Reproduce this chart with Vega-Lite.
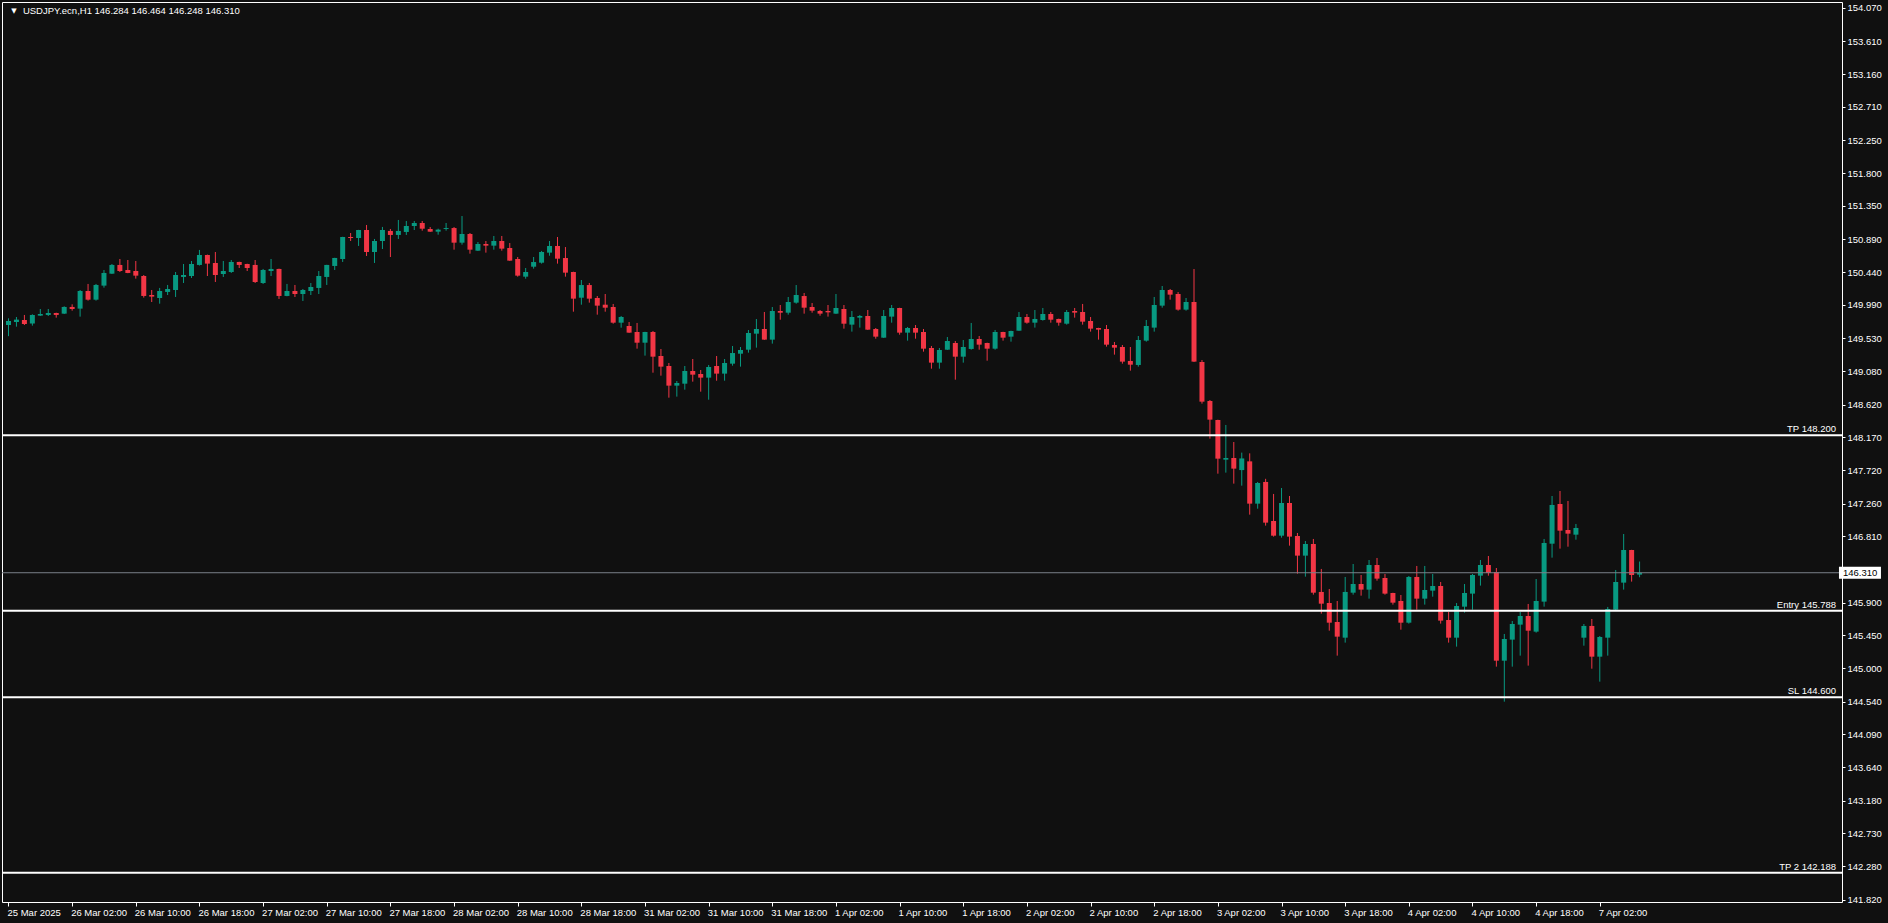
{
"$schema": "https://vega.github.io/schema/vega-lite/v6.json",
"width": 1840,
"height": 900,
"autosize": {"type": "none"},
"padding": {"left": 2, "top": 2, "right": 46, "bottom": 21},
"background": "#101010",
"config": {
"view": {"stroke": "#ffffff", "strokeWidth": 1, "fill": "#101010"},
"font": "Liberation Sans",
"axis": {"domain": false, "grid": false, "ticks": true, "tickColor": "#ffffff", "tickWidth": 1, "labelColor": "#ffffff", "labelFont": "Liberation Sans", "labelFontSize": 9.5, "labelOverlap": false, "titleColor": "#ffffff"}
},
"datasets": {
"bars": [
{"i":0,"o":149.713,"h":149.805,"l":149.56,"c":149.768},
{"i":1,"o":149.754,"h":149.823,"l":149.690,"c":149.787},
{"i":2,"o":149.782,"h":149.851,"l":149.713,"c":149.727},
{"i":3,"o":149.732,"h":149.860,"l":149.704,"c":149.851},
{"i":4,"o":149.842,"h":149.933,"l":149.837,"c":149.864},
{"i":5,"o":149.851,"h":149.933,"l":149.837,"c":149.878},
{"i":6,"o":149.878,"h":149.882,"l":149.814,"c":149.851},
{"i":7,"o":149.869,"h":149.970,"l":149.864,"c":149.961},
{"i":8,"o":149.961,"h":149.997,"l":149.910,"c":149.933},
{"i":9,"o":149.938,"h":150.194,"l":149.828,"c":150.180},
{"i":10,"o":150.180,"h":150.277,"l":150.048,"c":150.061},
{"i":11,"o":150.061,"h":150.277,"l":150.048,"c":150.263},
{"i":12,"o":150.254,"h":150.469,"l":150.226,"c":150.428},
{"i":13,"o":150.418,"h":150.551,"l":150.414,"c":150.538},
{"i":14,"o":150.538,"h":150.620,"l":150.441,"c":150.455},
{"i":15,"o":150.469,"h":150.606,"l":150.425,"c":150.428},
{"i":16,"o":150.455,"h":150.592,"l":150.350,"c":150.391},
{"i":17,"o":150.386,"h":150.400,"l":150.089,"c":150.112},
{"i":18,"o":150.125,"h":150.194,"l":150.029,"c":150.103},
{"i":19,"o":150.084,"h":150.222,"l":150.006,"c":150.180},
{"i":20,"o":150.167,"h":150.263,"l":150.125,"c":150.208},
{"i":21,"o":150.194,"h":150.441,"l":150.098,"c":150.400},
{"i":22,"o":150.373,"h":150.551,"l":150.290,"c":150.400},
{"i":23,"o":150.386,"h":150.592,"l":150.359,"c":150.551},
{"i":24,"o":150.538,"h":150.744,"l":150.530,"c":150.675},
{"i":25,"o":150.675,"h":150.680,"l":150.386,"c":150.556},
{"i":26,"o":150.565,"h":150.716,"l":150.304,"c":150.400},
{"i":27,"o":150.414,"h":150.592,"l":150.373,"c":150.455},
{"i":28,"o":150.441,"h":150.606,"l":150.428,"c":150.579},
{"i":29,"o":150.579,"h":150.582,"l":150.496,"c":150.538},
{"i":30,"o":150.551,"h":150.555,"l":150.455,"c":150.496},
{"i":31,"o":150.538,"h":150.606,"l":150.290,"c":150.304},
{"i":32,"o":150.290,"h":150.483,"l":150.277,"c":150.469},
{"i":33,"o":150.455,"h":150.620,"l":150.386,"c":150.483},
{"i":34,"o":150.483,"h":150.487,"l":150.071,"c":150.112},
{"i":35,"o":150.112,"h":150.277,"l":150.108,"c":150.180},
{"i":36,"o":150.180,"h":150.263,"l":150.098,"c":150.139},
{"i":37,"o":150.139,"h":150.208,"l":150.043,"c":150.194},
{"i":38,"o":150.180,"h":150.290,"l":150.125,"c":150.235},
{"i":39,"o":150.222,"h":150.455,"l":150.139,"c":150.386},
{"i":40,"o":150.373,"h":150.540,"l":150.263,"c":150.538},
{"i":41,"o":150.524,"h":150.636,"l":150.469,"c":150.634},
{"i":42,"o":150.620,"h":150.925,"l":150.579,"c":150.922},
{"i":43,"o":150.922,"h":150.977,"l":150.867,"c":150.908},
{"i":44,"o":150.908,"h":151.020,"l":150.799,"c":151.018},
{"i":45,"o":151.018,"h":151.087,"l":150.661,"c":150.716},
{"i":46,"o":150.716,"h":150.895,"l":150.565,"c":150.867},
{"i":47,"o":150.867,"h":151.060,"l":150.757,"c":151.018},
{"i":48,"o":151.005,"h":151.032,"l":150.647,"c":150.950},
{"i":49,"o":150.950,"h":151.156,"l":150.895,"c":151.005},
{"i":50,"o":150.991,"h":151.142,"l":150.950,"c":151.073},
{"i":51,"o":151.073,"h":151.142,"l":151.018,"c":151.114},
{"i":52,"o":151.114,"h":151.142,"l":151.009,"c":151.036},
{"i":53,"o":151.032,"h":151.059,"l":150.992,"c":150.995},
{"i":54,"o":150.995,"h":151.036,"l":150.954,"c":151.023},
{"i":55,"o":151.032,"h":151.114,"l":151.009,"c":151.045},
{"i":56,"o":151.045,"h":151.059,"l":150.748,"c":150.844},
{"i":57,"o":150.844,"h":151.210,"l":150.817,"c":150.963},
{"i":58,"o":150.963,"h":150.977,"l":150.693,"c":150.748},
{"i":59,"o":150.734,"h":150.853,"l":150.730,"c":150.826},
{"i":60,"o":150.826,"h":150.867,"l":150.707,"c":150.803},
{"i":61,"o":150.803,"h":150.936,"l":150.748,"c":150.867},
{"i":62,"o":150.867,"h":150.936,"l":150.734,"c":150.762},
{"i":63,"o":150.771,"h":150.839,"l":150.594,"c":150.597},
{"i":64,"o":150.620,"h":150.647,"l":150.377,"c":150.391},
{"i":65,"o":150.377,"h":150.496,"l":150.349,"c":150.441},
{"i":66,"o":150.514,"h":150.647,"l":150.487,"c":150.578},
{"i":67,"o":150.569,"h":150.730,"l":150.556,"c":150.716},
{"i":68,"o":150.707,"h":150.867,"l":150.665,"c":150.798},
{"i":69,"o":150.798,"h":150.922,"l":150.556,"c":150.624},
{"i":70,"o":150.633,"h":150.784,"l":150.377,"c":150.432},
{"i":71,"o":150.441,"h":150.445,"l":149.896,"c":150.075},
{"i":72,"o":150.088,"h":150.331,"l":149.992,"c":150.262},
{"i":73,"o":150.262,"h":150.290,"l":150.020,"c":150.075},
{"i":74,"o":150.084,"h":150.111,"l":149.855,"c":149.979},
{"i":75,"o":149.992,"h":150.139,"l":149.896,"c":149.951},
{"i":76,"o":149.960,"h":150.002,"l":149.731,"c":149.745},
{"i":77,"o":149.745,"h":149.837,"l":149.676,"c":149.823},
{"i":78,"o":149.699,"h":149.754,"l":149.605,"c":149.608},
{"i":79,"o":149.617,"h":149.741,"l":149.388,"c":149.470},
{"i":80,"o":149.470,"h":149.620,"l":149.292,"c":149.617},
{"i":81,"o":149.617,"h":149.631,"l":149.058,"c":149.278},
{"i":82,"o":149.287,"h":149.383,"l":149.017,"c":149.141},
{"i":83,"o":149.150,"h":149.191,"l":148.715,"c":148.880},
{"i":84,"o":148.880,"h":148.944,"l":148.729,"c":148.916},
{"i":85,"o":148.907,"h":149.150,"l":148.825,"c":149.081},
{"i":86,"o":149.081,"h":149.246,"l":148.935,"c":149.031},
{"i":87,"o":149.040,"h":149.095,"l":148.797,"c":148.990},
{"i":88,"o":148.990,"h":149.164,"l":148.687,"c":149.136},
{"i":89,"o":149.150,"h":149.287,"l":148.948,"c":149.045},
{"i":90,"o":149.045,"h":149.246,"l":148.948,"c":149.191},
{"i":91,"o":149.182,"h":149.425,"l":149.154,"c":149.328},
{"i":92,"o":149.319,"h":149.411,"l":149.141,"c":149.370},
{"i":93,"o":149.374,"h":149.644,"l":149.333,"c":149.603},
{"i":94,"o":149.594,"h":149.795,"l":149.402,"c":149.658},
{"i":95,"o":149.658,"h":149.892,"l":149.509,"c":149.512},
{"i":96,"o":149.512,"h":149.960,"l":149.457,"c":149.905},
{"i":97,"o":149.905,"h":149.988,"l":149.786,"c":149.882},
{"i":98,"o":149.882,"h":150.098,"l":149.855,"c":150.029},
{"i":99,"o":150.020,"h":150.262,"l":150.006,"c":150.125},
{"i":100,"o":150.111,"h":150.153,"l":149.869,"c":149.951},
{"i":101,"o":149.960,"h":150.015,"l":149.882,"c":149.910},
{"i":102,"o":149.905,"h":149.919,"l":149.841,"c":149.869},
{"i":103,"o":149.905,"h":149.988,"l":149.828,"c":149.887},
{"i":104,"o":149.869,"h":150.139,"l":149.865,"c":149.947},
{"i":105,"o":149.933,"h":149.988,"l":149.663,"c":149.731},
{"i":106,"o":149.718,"h":149.905,"l":149.622,"c":149.823},
{"i":107,"o":149.814,"h":149.851,"l":149.677,"c":149.837},
{"i":108,"o":149.837,"h":149.919,"l":149.645,"c":149.649},
{"i":109,"o":149.658,"h":149.672,"l":149.525,"c":149.553},
{"i":110,"o":149.539,"h":149.919,"l":149.535,"c":149.837},
{"i":111,"o":149.828,"h":149.988,"l":149.745,"c":149.947},
{"i":112,"o":149.947,"h":149.950,"l":149.580,"c":149.608},
{"i":113,"o":149.608,"h":149.686,"l":149.498,"c":149.672},
{"i":114,"o":149.672,"h":149.713,"l":149.525,"c":149.608},
{"i":115,"o":149.617,"h":149.658,"l":149.347,"c":149.388},
{"i":116,"o":149.397,"h":149.425,"l":149.113,"c":149.196},
{"i":117,"o":149.196,"h":149.397,"l":149.113,"c":149.370},
{"i":118,"o":149.374,"h":149.548,"l":149.370,"c":149.493},
{"i":119,"o":149.466,"h":149.493,"l":148.962,"c":149.278},
{"i":120,"o":149.278,"h":149.507,"l":149.196,"c":149.411},
{"i":121,"o":149.384,"h":149.741,"l":149.374,"c":149.521},
{"i":122,"o":149.521,"h":149.562,"l":149.374,"c":149.443},
{"i":123,"o":149.466,"h":149.470,"l":149.223,"c":149.388},
{"i":124,"o":149.388,"h":149.645,"l":149.374,"c":149.617},
{"i":125,"o":149.617,"h":149.620,"l":149.498,"c":149.539},
{"i":126,"o":149.553,"h":149.635,"l":149.484,"c":149.631},
{"i":127,"o":149.635,"h":149.892,"l":149.632,"c":149.823},
{"i":128,"o":149.823,"h":149.864,"l":149.731,"c":149.745},
{"i":129,"o":149.745,"h":149.919,"l":149.677,"c":149.796},
{"i":130,"o":149.782,"h":149.947,"l":149.773,"c":149.864},
{"i":131,"o":149.864,"h":149.892,"l":149.745,"c":149.786},
{"i":132,"o":149.796,"h":149.800,"l":149.704,"c":149.745},
{"i":133,"o":149.731,"h":149.919,"l":149.718,"c":149.892},
{"i":134,"o":149.905,"h":149.947,"l":149.814,"c":149.883},
{"i":135,"o":149.892,"h":150.002,"l":149.718,"c":149.759},
{"i":136,"o":149.768,"h":149.823,"l":149.622,"c":149.663},
{"i":137,"o":149.672,"h":149.675,"l":149.512,"c":149.649},
{"i":138,"o":149.658,"h":149.713,"l":149.416,"c":149.443},
{"i":139,"o":149.438,"h":149.480,"l":149.306,"c":149.402},
{"i":140,"o":149.411,"h":149.438,"l":149.182,"c":149.210},
{"i":141,"o":149.219,"h":149.411,"l":149.086,"c":149.168},
{"i":142,"o":149.164,"h":149.562,"l":149.141,"c":149.507},
{"i":143,"o":149.498,"h":149.782,"l":149.484,"c":149.699},
{"i":144,"o":149.677,"h":150.098,"l":149.622,"c":149.988},
{"i":145,"o":149.979,"h":150.249,"l":149.951,"c":150.194},
{"i":146,"o":150.194,"h":150.208,"l":150.061,"c":150.130},
{"i":147,"o":150.139,"h":150.166,"l":149.910,"c":149.924},
{"i":148,"o":149.924,"h":150.084,"l":149.910,"c":150.029},
{"i":149,"o":150.029,"h":150.482,"l":149.205,"c":149.210},
{"i":150,"o":149.205,"h":149.232,"l":148.633,"c":148.660},
{"i":151,"o":148.669,"h":148.683,"l":148.152,"c":148.413},
{"i":152,"o":148.408,"h":148.412,"l":147.671,"c":147.877},
{"i":153,"o":147.863,"h":148.340,"l":147.685,"c":147.886},
{"i":154,"o":147.886,"h":148.106,"l":147.534,"c":147.740},
{"i":155,"o":147.720,"h":147.960,"l":147.506,"c":147.880},
{"i":156,"o":147.840,"h":147.950,"l":147.108,"c":147.259},
{"i":157,"o":147.259,"h":147.557,"l":147.190,"c":147.543},
{"i":158,"o":147.557,"h":147.600,"l":146.957,"c":146.998},
{"i":159,"o":147.021,"h":147.392,"l":146.806,"c":146.819},
{"i":160,"o":146.819,"h":147.474,"l":146.792,"c":147.268},
{"i":161,"o":147.268,"h":147.364,"l":146.682,"c":146.806},
{"i":162,"o":146.815,"h":146.856,"l":146.297,"c":146.545},
{"i":163,"o":146.545,"h":146.746,"l":146.256,"c":146.705},
{"i":164,"o":146.705,"h":146.774,"l":146.009,"c":146.036},
{"i":165,"o":146.046,"h":146.362,"l":145.748,"c":145.885},
{"i":166,"o":145.894,"h":146.087,"l":145.514,"c":145.624},
{"i":167,"o":145.633,"h":145.922,"l":145.171,"c":145.432},
{"i":168,"o":145.418,"h":146.252,"l":145.350,"c":146.046},
{"i":169,"o":146.036,"h":146.430,"l":146.009,"c":146.155},
{"i":170,"o":146.155,"h":146.279,"l":145.995,"c":146.078},
{"i":171,"o":146.078,"h":146.485,"l":145.954,"c":146.416},
{"i":172,"o":146.416,"h":146.513,"l":146.201,"c":146.229},
{"i":173,"o":146.238,"h":146.293,"l":146.009,"c":146.023},
{"i":174,"o":146.032,"h":146.035,"l":145.872,"c":145.899},
{"i":175,"o":145.922,"h":146.004,"l":145.528,"c":145.624},
{"i":176,"o":145.624,"h":146.265,"l":145.611,"c":146.252},
{"i":177,"o":146.252,"h":146.403,"l":145.803,"c":145.954},
{"i":178,"o":145.954,"h":146.403,"l":145.872,"c":146.073},
{"i":179,"o":146.064,"h":146.293,"l":145.981,"c":146.128},
{"i":180,"o":146.128,"h":146.183,"l":145.611,"c":145.652},
{"i":181,"o":145.661,"h":145.771,"l":145.350,"c":145.418},
{"i":182,"o":145.418,"h":145.894,"l":145.295,"c":145.853},
{"i":183,"o":145.844,"h":146.155,"l":145.762,"c":146.032},
{"i":184,"o":146.023,"h":146.293,"l":145.803,"c":146.279},
{"i":185,"o":146.270,"h":146.485,"l":146.133,"c":146.416},
{"i":186,"o":146.416,"h":146.540,"l":146.270,"c":146.307},
{"i":187,"o":146.320,"h":146.375,"l":145.020,"c":145.102},
{"i":188,"o":145.102,"h":145.469,"l":144.539,"c":145.400},
{"i":189,"o":145.391,"h":145.647,"l":145.020,"c":145.606},
{"i":190,"o":145.597,"h":145.771,"l":145.171,"c":145.716},
{"i":191,"o":145.716,"h":145.881,"l":145.034,"c":145.514},
{"i":192,"o":145.501,"h":146.224,"l":145.487,"c":145.922},
{"i":193,"o":145.913,"h":146.774,"l":145.844,"c":146.719},
{"i":194,"o":146.709,"h":147.364,"l":146.517,"c":147.241},
{"i":195,"o":147.254,"h":147.433,"l":146.641,"c":146.888},
{"i":196,"o":146.897,"h":147.296,"l":146.668,"c":146.847},
{"i":197,"o":146.833,"h":146.980,"l":146.764,"c":146.925},
{"i":198,"o":145.418,"h":145.606,"l":145.308,"c":145.579},
{"i":199,"o":145.579,"h":145.675,"l":144.992,"c":145.157},
{"i":200,"o":145.157,"h":145.441,"l":144.814,"c":145.427},
{"i":201,"o":145.418,"h":145.840,"l":145.171,"c":145.812},
{"i":202,"o":145.803,"h":146.348,"l":145.800,"c":146.183},
{"i":203,"o":146.174,"h":146.842,"l":146.078,"c":146.622},
{"i":204,"o":146.622,"h":146.625,"l":146.188,"c":146.279},
{"i":205,"o":146.284,"h":146.464,"l":146.248,"c":146.310}
],
"levels": [
{"name": "TP 148.200", "price": 148.2},
{"name": "Entry 145.788", "price": 145.788},
{"name": "SL 144.600", "price": 144.6},
{"name": "TP 2 142.188", "price": 142.188}
],
"last": [{"price": 146.31, "label": "146.310"}],
"header": [{"label": "USDJPY.ecn,H1  146.284 146.464 146.248 146.310"}]
},
"layer": [
{
"data": {"name": "bars"},
"mark": {"type": "rule", "strokeWidth": 1},
"encoding": {
"x": {"field": "i", "type": "quantitative", "title": null,
"scale": {"domain": [-0.1875, 229.8125], "nice": false, "zero": false},
"axis": {"orient": "bottom", "title": null, "labelOverlap": false, "tickCount": 100,
"values": [0,8,16,24,32,40,48,56,64,72,80,88,96,104,112,120,128,136,144,152,160,168,176,184,192,200],
"labelExpr": "split('25 Mar 2025|26 Mar 02:00|26 Mar 10:00|26 Mar 18:00|27 Mar 02:00|27 Mar 10:00|27 Mar 18:00|28 Mar 02:00|28 Mar 10:00|28 Mar 18:00|31 Mar 02:00|31 Mar 10:00|31 Mar 18:00|1 Apr 02:00|1 Apr 10:00|1 Apr 18:00|2 Apr 02:00|2 Apr 10:00|2 Apr 18:00|3 Apr 02:00|3 Apr 10:00|3 Apr 18:00|4 Apr 02:00|4 Apr 10:00|4 Apr 18:00|7 Apr 02:00', '|')[round(datum.value / 8)]",
"tickSize": 4, "labelAlign": "left", "labelBaseline": "top", "labelPadding": 1, "labelOffset": -1.5}},
"y": {"field": "l", "type": "quantitative", "title": null,
"scale": {"domain": [141.787, 154.15], "nice": false, "zero": false},
"axis": {"orient": "right", "title": null, "labelOverlap": false, "tickCount": 100,
"values": [154.07,153.61,153.16,152.71,152.25,151.8,151.35,150.89,150.44,149.99,149.53,149.08,148.62,148.17,147.72,147.26,146.81,146.36,145.9,145.45,145.0,144.54,144.09,143.64,143.18,142.73,142.28,141.82],
"format": ".3f",
"labelExpr": "datum.value == 146.36 ? '' : datum.label",
"tickSize": 3, "labelPadding": 2}},
"y2": {"field": "h"},
"color": {"condition": {"test": "datum.c >= datum.o", "value": "#089981"}, "value": "#f23645"}
}
},
{
"data": {"name": "bars"},
"mark": {"type": "bar", "size": 5},
"encoding": {
"x": {"field": "i", "type": "quantitative", "title": null},
"y": {"field": "o", "type": "quantitative", "title": null},
"y2": {"field": "c"},
"color": {"condition": {"test": "datum.c >= datum.o", "value": "#089981"}, "value": "#f23645"}
}
},
{
"data": {"name": "last"},
"mark": {"type": "rule", "color": "#7a808a", "strokeWidth": 1},
"encoding": {
"y": {"field": "price", "type": "quantitative", "title": null}
}
},
{
"data": {"name": "levels"},
"mark": {"type": "rule", "color": "#ffffff", "strokeWidth": 2},
"encoding": {
"y": {"field": "price", "type": "quantitative", "title": null}
}
},
{
"data": {"name": "levels"},
"mark": {"type": "text", "color": "#ffffff", "font": "Liberation Sans", "fontSize": 9.5, "align": "right", "baseline": "alphabetic", "dx": -1, "dy": -3},
"encoding": {
"x": {"datum": 229.8125, "type": "quantitative", "title": null},
"y": {"field": "price", "type": "quantitative", "title": null},
"text": {"field": "name"}
}
},
{
"data": {"name": "last"},
"mark": {"type": "tick", "orient": "horizontal", "color": "#ffffff", "opacity": 1, "size": 42, "thickness": 12},
"encoding": {
"x": {"datum": 232.7, "type": "quantitative", "title": null},
"y": {"field": "price", "type": "quantitative", "title": null}
}
},
{
"data": {"name": "last"},
"mark": {"type": "text", "color": "#000000", "font": "Liberation Sans", "fontSize": 9.5, "align": "left", "baseline": "middle"},
"encoding": {
"x": {"datum": 230.56, "type": "quantitative", "title": null},
"y": {"field": "price", "type": "quantitative", "title": null},
"text": {"field": "label"}
}
},
{
"data": {"name": "header"},
"mark": {"type": "text", "color": "#ffffff", "font": "Liberation Sans", "fontSize": 9.5, "align": "left", "baseline": "middle"},
"encoding": {
"x": {"datum": 1.8125, "type": "quantitative", "title": null},
"y": {"datum": 154.03, "type": "quantitative", "title": null},
"text": {"field": "label"}
}
},
{
"data": {"name": "header"},
"mark": {"type": "text", "color": "#ffffff", "font": "DejaVu Sans", "fontSize": 7, "align": "center", "baseline": "middle"},
"encoding": {
"x": {"datum": 0.6875, "type": "quantitative", "title": null},
"y": {"datum": 154.03, "type": "quantitative", "title": null},
"text": {"value": "▼"}
}
}
]
}
